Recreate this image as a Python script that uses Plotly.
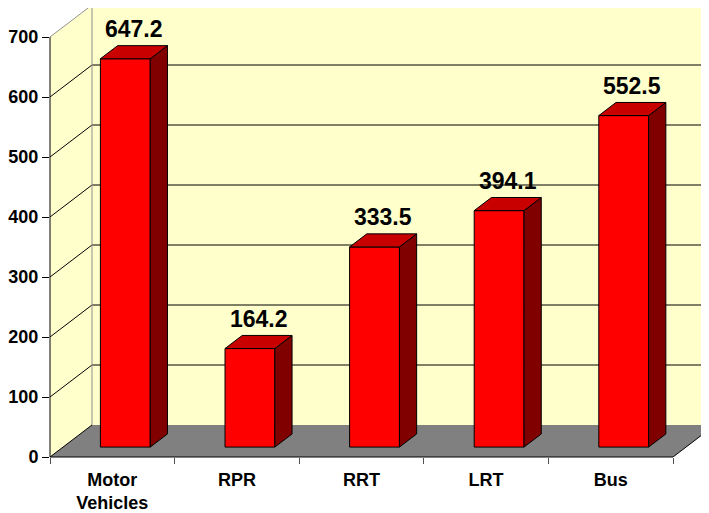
import plotly.graph_objects as go

# ---- data ----
categories = ["Motor<br>Vehicles", "RPR", "RRT", "LRT", "Bus"]
values = [647.2, 164.2, 333.5, 394.1, 552.5]
value_labels = ["647.2", "164.2", "333.5", "394.1", "552.5"]
y_ticks = [0, 100, 200, 300, 400, 500, 600, 700]

# ---- pseudo-3D geometry (in axis units) ----
N = len(categories)
YMAX = 700
DX = 0.337      # depth shift along category axis (full depth)
DV = 53.33      # depth shift along value axis (full depth)
F0, F1 = 0.31, 0.72   # bar front / back depth fraction
BW = 0.4              # bar width in category units

FONT = "Arial, Liberation Sans, sans-serif"


def P(c, v, f):
    return c + f * DX, v + f * DV


fig = go.Figure()


def poly(pts, fill, line_color="black", line_width=1):
    xs, ys = zip(*[P(*p) for p in pts])
    xs = list(xs) + [xs[0]]
    ys = list(ys) + [ys[0]]
    fig.add_trace(go.Scatter(
        x=xs, y=ys, mode="lines", fill="toself", fillcolor=fill,
        line=dict(color=line_color, width=line_width),
        hoverinfo="skip", showlegend=False))


def seg(p1, p2, color="black", width=1):
    x1, y1 = P(*p1)
    x2, y2 = P(*p2)
    fig.add_trace(go.Scatter(
        x=[x1, x2], y=[y1, y2], mode="lines",
        line=dict(color=color, width=width),
        hoverinfo="skip", showlegend=False))


WALL = "#FFFFCC"
# back wall
poly([(0, 0, 1), (N + 1, 0, 1), (N + 1, YMAX, 1), (0, YMAX, 1)], WALL, "rgba(0,0,0,0)", 0)
# left wall
poly([(0, 0, 0), (0, 0, 1), (0, YMAX, 1), (0, YMAX, 0)], WALL, "rgba(0,0,0,0)", 0)
# floor
poly([(0, 0, 0), (N, 0, 0), (N, 0, 1), (0, 0, 1)], "#808080", "rgba(0,0,0,0)", 0)

# gridlines
for t in y_ticks[1:]:
    col = "#909090" if t == YMAX else "black"
    seg((0, t, 1), (N + 1, t, 1), col)
    seg((0, t, 0), (0, t, 1), col)
seg((0, 0, 1), (0, YMAX, 1), "#909090")
seg((0, 0, 0), (0, 0, 1), "black")
seg((N, 0, 0), (N, 0, 1), "black")

# bars
for i, h in enumerate(values):
    c0 = i + 0.5 - BW / 2
    c1 = i + 0.5 + BW / 2
    poly([(c0, 0, F0), (c1, 0, F0), (c1, h, F0), (c0, h, F0)], "#FF0000")
    poly([(c1, 0, F0), (c1, 0, F1), (c1, h, F1), (c1, h, F0)], "#800000")
    poly([(c0, h, F0), (c1, h, F0), (c1, h, F1), (c0, h, F1)], "#C80000")
    xl, yl = P(i + 0.5, h, (F0 + F1) / 2)
    fig.add_annotation(x=xl, y=yl, text=value_labels[i], showarrow=False,
                       xanchor="center", yanchor="bottom", yshift=8,
                       font=dict(family=FONT, size=23, color="black", weight="bold"))

# axis lines
fig.add_shape(type="line", xref="x", yref="paper", x0=0, x1=N, y0=0, y1=0,
              line=dict(color="black", width=1))
fig.add_shape(type="line", xref="paper", yref="y", x0=0, x1=0, y0=0, y1=YMAX,
              line=dict(color="black", width=1))

# the page places the figure 8px from the top-left corner
W, H = 709, 513
ML, MB = 42, 64
px_per_cat = 124.6
px_per_val = 0.6
xr = [0, (W - ML) / px_per_cat]
yr = [0, (H - MB) / px_per_val]

fig.update_layout(
    width=W, height=H,
    margin=dict(l=ML, r=0, t=0, b=MB, autoexpand=False),
    paper_bgcolor="white", plot_bgcolor="white",
    showlegend=False,
    xaxis=dict(range=xr, showgrid=False, zeroline=False, showline=False,
               automargin=False,
               tickmode="array", tickvals=[i + 0.5 for i in range(N)],
               ticktext=categories, ticks="outside", ticklen=6,
               tickcolor="rgba(0,0,0,0)",
               tickfont=dict(family=FONT, size=18, color="black", weight="bold"),
               minor=dict(tickmode="array", tickvals=list(range(N + 1)),
                          ticks="outside", ticklen=6, tickcolor="#505050",
                          showgrid=False)),
    yaxis=dict(range=yr, showgrid=False, zeroline=False, showline=False,
               automargin=False,
               tickmode="array", tickvals=y_ticks,
               ticktext=[str(t) for t in y_ticks],
               ticks="outside", ticklen=7, tickcolor="black",
               tickfont=dict(family=FONT, size=18, color="black", weight="bold")),
)

fig.write_html("out.html")
